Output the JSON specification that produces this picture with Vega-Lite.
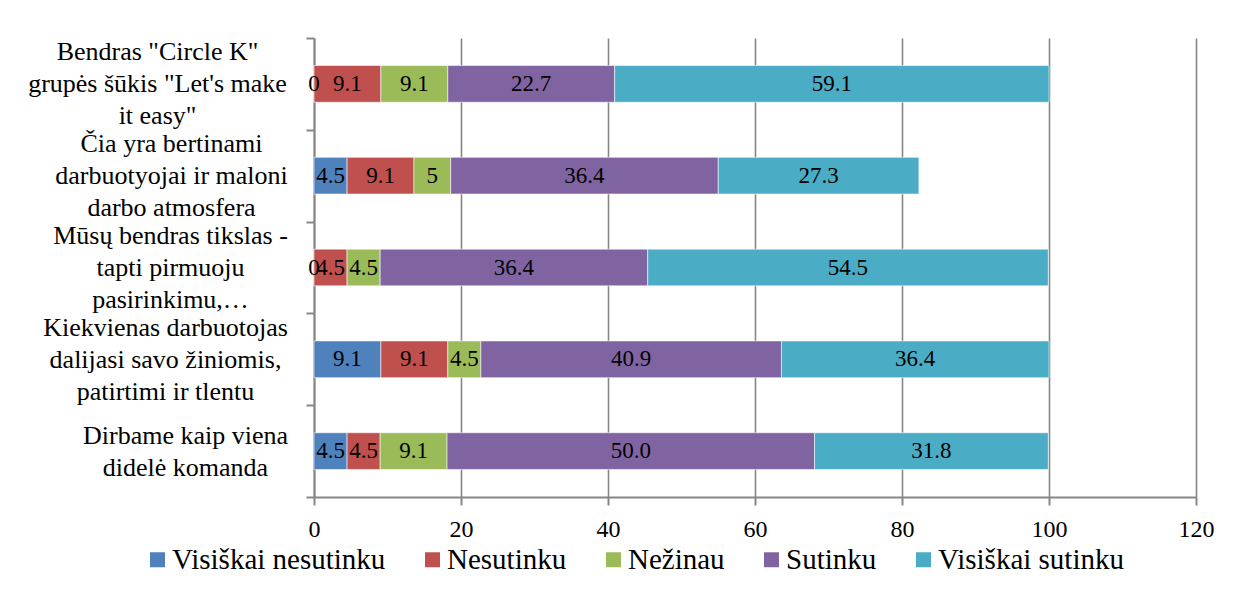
{
  "$schema": "https://vega.github.io/schema/vega-lite/v6.json",
  "width": 882,
  "height": 459,
  "autosize": {"type": "none"},
  "padding": {"left": 314, "top": 38, "right": 47, "bottom": 97},
  "background": "white",
  "config": {
    "font": "'Liberation Serif', 'Times New Roman', Tinos, 'DejaVu Serif', serif",
    "axis": {"labelFont": "'Liberation Serif', 'Times New Roman', Tinos, 'DejaVu Serif', serif"},
    "legend": {"labelFont": "'Liberation Serif', 'Times New Roman', Tinos, 'DejaVu Serif', serif"},
    "text": {"font": "'Liberation Serif', 'Times New Roman', Tinos, 'DejaVu Serif', serif"},
    "view": {"stroke": null}
  },
  "data": {
    "values": [
      {"cat": "Bendras \"Circle K\"|grupės šūkis \"Let's make|it easy\"", "resp": "Visiškai nesutinku", "o": 1, "v": 0, "lab": "0"},
      {"cat": "Bendras \"Circle K\"|grupės šūkis \"Let's make|it easy\"", "resp": "Nesutinku", "o": 2, "v": 9.1, "lab": "9.1"},
      {"cat": "Bendras \"Circle K\"|grupės šūkis \"Let's make|it easy\"", "resp": "Nežinau", "o": 3, "v": 9.1, "lab": "9.1"},
      {"cat": "Bendras \"Circle K\"|grupės šūkis \"Let's make|it easy\"", "resp": "Sutinku", "o": 4, "v": 22.7, "lab": "22.7"},
      {"cat": "Bendras \"Circle K\"|grupės šūkis \"Let's make|it easy\"", "resp": "Visiškai sutinku", "o": 5, "v": 59.1, "lab": "59.1"},
      {"cat": "Čia yra bertinami|darbuotyojai ir maloni|darbo atmosfera", "resp": "Visiškai nesutinku", "o": 1, "v": 4.5, "lab": "4.5"},
      {"cat": "Čia yra bertinami|darbuotyojai ir maloni|darbo atmosfera", "resp": "Nesutinku", "o": 2, "v": 9.1, "lab": "9.1"},
      {"cat": "Čia yra bertinami|darbuotyojai ir maloni|darbo atmosfera", "resp": "Nežinau", "o": 3, "v": 5, "lab": "5"},
      {"cat": "Čia yra bertinami|darbuotyojai ir maloni|darbo atmosfera", "resp": "Sutinku", "o": 4, "v": 36.4, "lab": "36.4"},
      {"cat": "Čia yra bertinami|darbuotyojai ir maloni|darbo atmosfera", "resp": "Visiškai sutinku", "o": 5, "v": 27.3, "lab": "27.3"},
      {"cat": "Mūsų bendras tikslas -|tapti pirmuoju|pasirinkimu,…", "resp": "Visiškai nesutinku", "o": 1, "v": 0, "lab": "0"},
      {"cat": "Mūsų bendras tikslas -|tapti pirmuoju|pasirinkimu,…", "resp": "Nesutinku", "o": 2, "v": 4.5, "lab": "4.5"},
      {"cat": "Mūsų bendras tikslas -|tapti pirmuoju|pasirinkimu,…", "resp": "Nežinau", "o": 3, "v": 4.5, "lab": "4.5"},
      {"cat": "Mūsų bendras tikslas -|tapti pirmuoju|pasirinkimu,…", "resp": "Sutinku", "o": 4, "v": 36.4, "lab": "36.4"},
      {"cat": "Mūsų bendras tikslas -|tapti pirmuoju|pasirinkimu,…", "resp": "Visiškai sutinku", "o": 5, "v": 54.5, "lab": "54.5"},
      {"cat": "Kiekvienas darbuotojas|dalijasi savo žiniomis,|patirtimi ir tlentu", "resp": "Visiškai nesutinku", "o": 1, "v": 9.1, "lab": "9.1"},
      {"cat": "Kiekvienas darbuotojas|dalijasi savo žiniomis,|patirtimi ir tlentu", "resp": "Nesutinku", "o": 2, "v": 9.1, "lab": "9.1"},
      {"cat": "Kiekvienas darbuotojas|dalijasi savo žiniomis,|patirtimi ir tlentu", "resp": "Nežinau", "o": 3, "v": 4.5, "lab": "4.5"},
      {"cat": "Kiekvienas darbuotojas|dalijasi savo žiniomis,|patirtimi ir tlentu", "resp": "Sutinku", "o": 4, "v": 40.9, "lab": "40.9"},
      {"cat": "Kiekvienas darbuotojas|dalijasi savo žiniomis,|patirtimi ir tlentu", "resp": "Visiškai sutinku", "o": 5, "v": 36.4, "lab": "36.4"},
      {"cat": "Dirbame kaip viena|didelė komanda", "resp": "Visiškai nesutinku", "o": 1, "v": 4.5, "lab": "4.5"},
      {"cat": "Dirbame kaip viena|didelė komanda", "resp": "Nesutinku", "o": 2, "v": 4.5, "lab": "4.5"},
      {"cat": "Dirbame kaip viena|didelė komanda", "resp": "Nežinau", "o": 3, "v": 9.1, "lab": "9.1"},
      {"cat": "Dirbame kaip viena|didelė komanda", "resp": "Sutinku", "o": 4, "v": 50.0, "lab": "50.0"},
      {"cat": "Dirbame kaip viena|didelė komanda", "resp": "Visiškai sutinku", "o": 5, "v": 31.8, "lab": "31.8"}
    ]
  },
  "encoding": {
    "y": {
      "field": "cat",
      "type": "nominal",
      "sort": null,
      "scale": {"paddingInner": 0, "paddingOuter": 0},
      "axis": {
        "title": null,
        "tickBand": "extent",
        "labelExpr": "split(datum.label, '|')",
        "labelAlign": "center",
        "labelBaseline": {"condition": {"test": "datum.index === 1", "value": "line-top"}, "value": "middle"},
        "labelOffset": -32,
        "labelPadding": {
          "condition": [
            {"test": "datum.index < 0.1", "value": 149},
            {"test": "datum.index < 0.3", "value": 135},
            {"test": "datum.index < 0.6", "value": 136},
            {"test": "datum.index < 0.9", "value": 141}
          ],
          "value": 121
        },
        "labelFontSize": 26,
        "labelLineHeight": 32,
        "labelLimit": 500,
        "labelColor": "#000000",
        "domainColor": "#868686",
        "domainWidth": 2,
        "tickColor": "#868686",
        "tickWidth": 2,
        "tickSize": 8,
        "grid": false
      }
    }
  },
  "layer": [
    {
      "mark": {"type": "bar", "height": {"band": 0.4}, "stroke": "#ffffff", "strokeWidth": 0.8, "strokeOpacity": 0.7},
      "encoding": {
        "x": {
          "field": "v",
          "type": "quantitative",
          "stack": "zero",
          "scale": {"domain": [0, 120], "nice": false},
          "axis": {
            "title": null,
            "values": [0, 20, 40, 60, 80, 100, 120],
            "grid": true,
            "gridColor": "#868686",
            "gridWidth": 1.6,
            "domainColor": "#868686",
            "domainWidth": 2,
            "tickColor": "#868686",
            "tickWidth": 2,
            "tickSize": 8,
            "labelFontSize": 24,
            "labelColor": "#000000",
            "labelPadding": 12,
            "labelFlush": false
          }
        },
        "color": {
          "field": "resp",
          "type": "nominal",
          "scale": {
            "domain": ["Visiškai nesutinku", "Nesutinku", "Nežinau", "Sutinku", "Visiškai sutinku"],
            "range": ["#4F81BD", "#C0504D", "#9BBB59", "#8064A2", "#4BACC6"]
          },
          "legend": {
            "title": null,
            "orient": "none",
            "direction": "horizontal",
            "legendX": -171,
            "legendY": 507,
            "symbolType": "square",
            "symbolSize": 225,
            "symbolStrokeWidth": 0,
            "labelFontSize": 29,
            "labelColor": "#000000",
            "labelOffset": 0,
            "labelLimit": 500,
            "columnPadding": 32,
            "padding": 0
          }
        },
        "order": {"field": "o"}
      }
    },
    {
      "mark": {"type": "text", "fontSize": 23, "color": "#000000", "baseline": "middle", "align": "center"},
      "encoding": {
        "x": {"field": "v", "type": "quantitative", "stack": "zero", "bandPosition": 0.5},
        "detail": {"field": "resp"},
        "text": {"field": "lab"},
        "order": {"field": "o"}
      }
    }
  ]
}
